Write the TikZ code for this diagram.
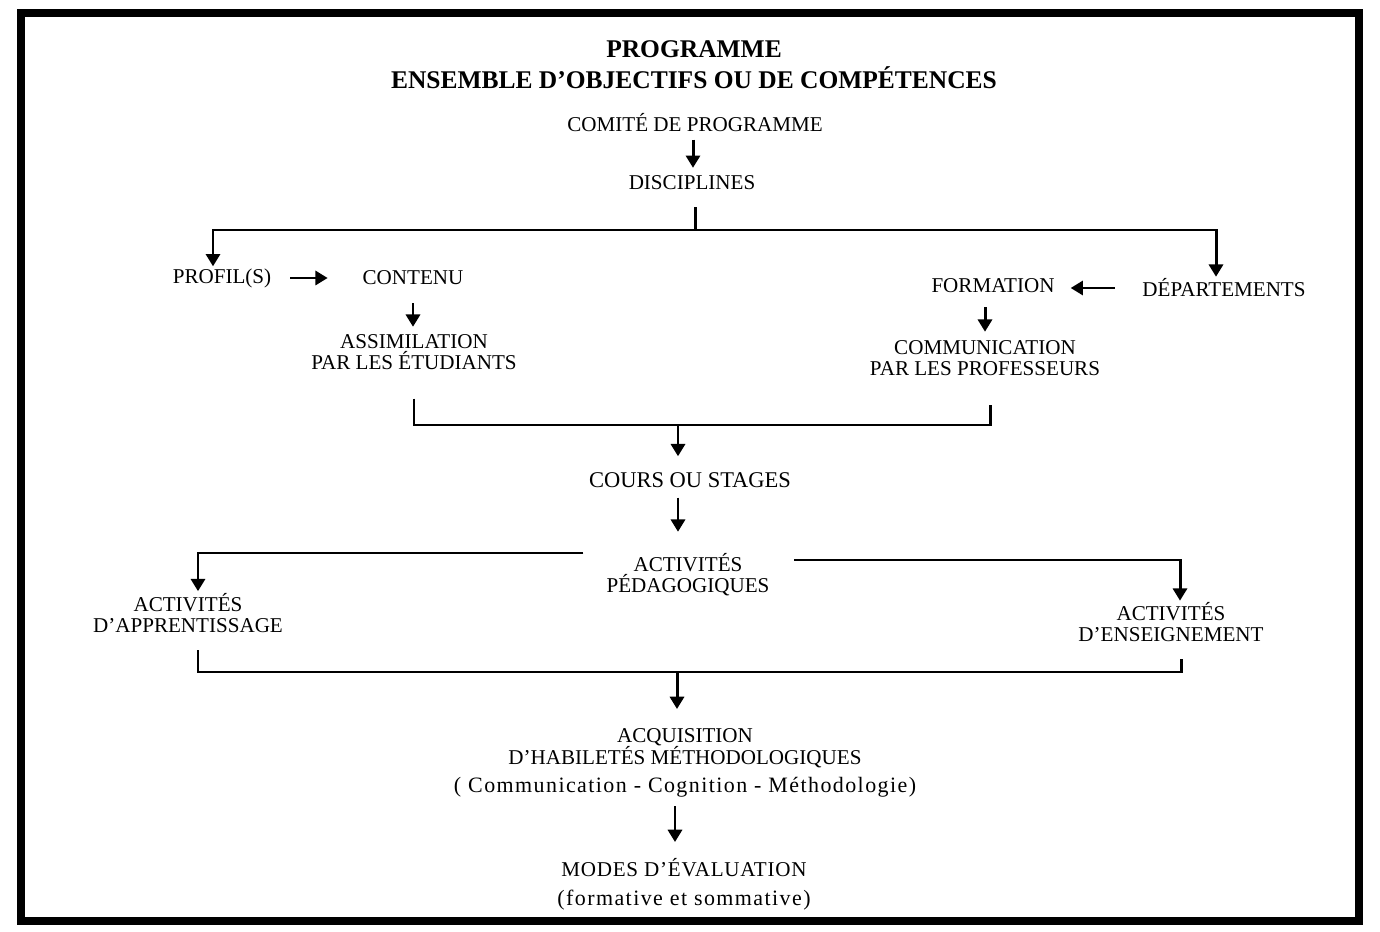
\documentclass[tikz,border=0pt]{standalone}
\usepackage{fontspec}
\setmainfont{Liberation Serif}
\usetikzlibrary{arrows.meta}
\newcommand{\wide}[1]{{\fontsize{12.5}{12.5}\selectfont\addfontfeatures{LetterSpace=6.5}#1}}
\begin{document}
\begin{tikzpicture}[x=0.02cm,y=-0.02cm]
        \tikzstyle{lbl}=[font=\fontsize{12}{12}\selectfont,align=center,inner sep=1pt]
        \tikzstyle{ttl}=[font=\fontsize{14.5}{17.6}\selectfont\bfseries,align=center,inner sep=1pt]
        \tikzstyle{conn}=[line width=1.7pt]
        \tikzstyle{arr}=[conn,-{Triangle[length=7pt,width=8pt]}]
        \useasboundingbox (0,0) rectangle (1380,932);
        \draw[line width=4.5pt] (21,13) rectangle (1359,921);
        \node[ttl] (prog) at (694,64.5) {PROGRAMME\\ENSEMBLE D’OBJECTIFS OU DE COMPÉTENCES};
        \node[lbl] (comite) at (695,123) {COMITÉ DE PROGRAMME};
        \node[lbl] (disc) at (692,183) {DISCIPLINES};
        \node[lbl] (profil) at (222,278) {PROFIL(S)};
        \node[lbl] (contenu) at (413,278) {CONTENU};
        \node[lbl] (assim) at (414,352.5) {ASSIMILATION\\PAR LES ÉTUDIANTS};
        \node[lbl] (formation) at (993,286) {FORMATION};
        \node[lbl] (dept) at (1224,288) {DÉPARTEMENTS};
        \node[lbl] (comm) at (985,358.5) {COMMUNICATION\\PAR LES PROFESSEURS};
        \node[lbl,font=\fontsize{12.8}{12.8}\selectfont] (cours) at (690,480) {COURS OU STAGES};
        \node[lbl] (pedag) at (688,574.5) {ACTIVITÉS\\PÉDAGOGIQUES};
        \node[lbl] (appr) at (188,613) {ACTIVITÉS\\D’APPRENTISSAGE};
        \node[lbl] (ens) at (1171,622.5) {ACTIVITÉS\\D’ENSEIGNEMENT};
        \node[lbl,font=\fontsize{12}{12.5}\selectfont] (acq) at (685,763) {ACQUISITION\\D’HABILETÉS MÉTHODOLOGIQUES\\[3.4pt]\wide{( Communication - Cognition - Méthodologie)}};
        \node[lbl,font=\fontsize{12}{16.4}\selectfont] (modes) at (684,884) {{\addfontfeatures{LetterSpace=3.5}MODES D’ÉVALUATION}\\\wide{(formative et sommative)}};
        \coordinate (split) at (695,230);
        \coordinate (lb) at (213,230);
        \coordinate (rb) at (1216,230);
        \coordinate (mid1) at (678,425);
        \coordinate (la) at (198,553);
        \coordinate (ra) at (1180,560);
        \coordinate (lb2) at (198,672);
        \coordinate (rb2) at (1181,672);
        \coordinate (mid2) at (677,672);
        \draw[arr,shorten <=3pt,shorten >=3.4pt] (comite.south -| 693,0) -- (disc.north -| 693,0);
        \draw[conn,shorten <=8.5pt] (disc.south -| split) -- (split);
        \draw[arr] (split) -- (lb) -- (lb |- profil.north);
        \draw[arr] (split) -- (rb) -- (rb |- dept.north);
        \draw[arr,shorten <=9.6pt,shorten >=18.7pt] (profil.east) -- (profil.east -| contenu.west);
        \draw[arr,shorten <=9pt,shorten >=3.4pt] (contenu.south) -- (contenu.south |- assim.north);
        \draw[arr,shorten <=14.7pt,shorten >=8pt] (dept.west) -- (dept.west -| formation.east);
        \draw[arr,shorten <=7pt,shorten >=4pt] (formation.south -| comm) -- (comm.north);
        \draw[conn,shorten <=15pt,shorten >=15pt] (assim.south) |- (mid1) -| (comm.south -| 990,0);
        \draw[arr,shorten >=8pt] (mid1) -- (mid1 |- cours.north);
        \draw[arr,shorten <=4.5pt,shorten >=11pt] (mid1 |- cours.south) -- (mid1 |- pedag.north);
        \draw[arr,shorten <=12pt] (la -| pedag.west) -- (la) -- (la |- appr.north);
        \draw[arr,shorten <=13pt] (ra -| pedag.east) -- (ra) -- (ra |- ens.north);
        \draw[conn,shorten <=8.8pt,shorten >=8.5pt] (lb2 |- appr.south) -- (lb2) -- (rb2) -- (rb2 |- ens.south);
        \draw[arr,shorten >=10pt] (mid2) -- (mid2 |- acq.north);
        \draw[arr,shorten <=4pt,shorten >=8pt] (acq.south -| 675,0) -- (modes.north -| 675,0);
\end{tikzpicture}
\end{document}
